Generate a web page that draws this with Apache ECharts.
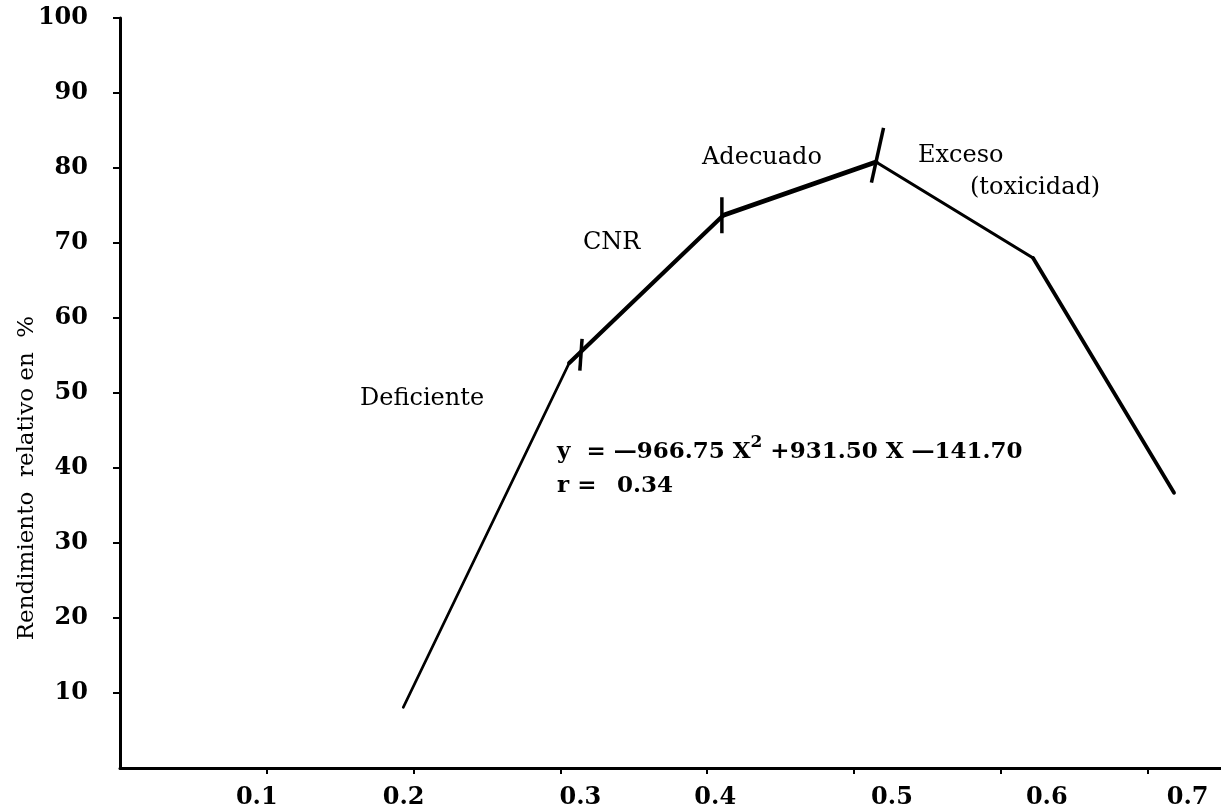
<!DOCTYPE html>
<html><head><meta charset="utf-8">
<script src="https://cdn.jsdelivr.net/npm/echarts@6/dist/echarts.min.js"></script>
<style>html,body{margin:0;padding:0;background:#fff}#c{width:1221px;height:812px}</style>
</head><body><div id="c"></div>
<script>
// Data
const xTicks = [0.1, 0.2, 0.3, 0.4, 0.5, 0.6, 0.7];
const yTicks = [10, 20, 30, 40, 50, 60, 70, 80, 90, 100];
const xValues = [0.193, 0.306, 0.411, 0.515, 0.622, 0.718];
const yValues = [8.1, 54.0, 73.7, 80.8, 68.0, 36.7];
const boundaryX = [0.314, 0.410, 0.516];
const boundaryY = [55.1, 73.7, 81.7];
const zoneLabels = ['Deficiente', 'CNR', 'Adecuado', 'Exceso', '(toxicidad)'];
const equationText = ['y  = \u2014966.75 X', '2', ' +931.50 X \u2014141.70'];
const rText = ['r =', '0.34'];
const yAxisTitle = 'Rendimiento  relativo en  %';

const points = xValues.map((x, i) => [x, yValues[i]]);
const segWidths = [2.8, 4.2, 5, 3.2, 3.8];
const segSeries = segWidths.map((w, i) => ({
  type: 'line', data: points.slice(i, i + 2), symbol: 'none', silent: true,
  lineStyle: { color: '#000', width: w, cap: 'round', opacity: 1 }
}));
const markRot = [-4, 0, -12.5];
const markLen = [32, 36, 56];

const serif = '"DejaVu Serif", "Liberation Serif", serif';
const chart = echarts.init(document.getElementById('c'));
const xOff = [-10, -10, 20, 8, 38, 46, 40];
const rich = {};
xOff.forEach((d, i) => {
  rich['l' + i] = { fontFamily: serif, fontWeight: 'bold', fontSize: 24, color: '#000',
    padding: d >= 0 ? [0, 0, 0, 2 * d] : [0, -2 * d, 0, 0] };
});
const txt = (s, left, cy, size, bold) => ({
  type: 'text', left: left, top: cy - Math.round(size * 0.6),
  style: { text: s, font: (bold ? 'bold ' : '') + size + 'px ' + serif, fill: '#000' }
});
chart.setOption({
  animation: false,
  grid: { left: 120, right: 0, top: 18, bottom: 44, containLabel: false, outerBoundsMode: 'none' },
  xAxis: {
    type: 'value', min: 0, max: 0.75, interval: 0.1,
    axisLine: { show: true, lineStyle: { color: '#000', width: 3 } },
    axisTick: { show: true, length: 6, customValues: xTicks, lineStyle: { color: '#000', width: 2 } },
    splitLine: { show: false },
    axisLabel: {
      margin: 18, color: '#000', customValues: xTicks,
      formatter: v => {
        const idx = xTicks.findIndex(t => Math.abs(t - v) < 1e-9);
        return idx < 0 ? '' : '{l' + idx + '|' + xTicks[idx].toFixed(1) + '}';
      },
      rich: rich
    }
  },
  yAxis: {
    type: 'value', min: 0, max: 100, interval: 10,
    name: yAxisTitle, nameLocation: 'middle', nameGap: 81, nameRotate: 90,
    nameMoveOverlap: false,
    nameTextStyle: { fontFamily: serif, fontSize: 23, color: '#000', padding: [0, 170, 0, 0] },
    axisLine: { show: true, lineStyle: { color: '#000', width: 3 } },
    axisTick: { show: true, length: 7, customValues: yTicks, lineStyle: { color: '#000', width: 2 } },
    splitLine: { show: false },
    axisLabel: {
      margin: 32, color: '#000', fontFamily: serif, fontWeight: 'bold', fontSize: 24,
      customValues: yTicks,
      formatter: v => String(v)
    }
  },
  series: segSeries.concat([{
    type: 'scatter', silent: true,
    data: boundaryX.map((x, i) => ({
      value: [x, boundaryY[i]], symbolRotate: markRot[i], symbolSize: [3.5, markLen[i]]
    })),
    symbol: 'rect', itemStyle: { color: '#000', opacity: 1 }
  }]),
  graphic: [
    txt(zoneLabels[0], 360, 401, 24, false),
    txt(zoneLabels[1], 583, 245, 24, false),
    txt(zoneLabels[2], 702, 160, 24, false),
    txt(zoneLabels[3], 918, 158, 24, false),
    txt(zoneLabels[4], 970, 190, 24, false),
    { type: 'text', left: 557, top: 434, style: {
      text: '{a|' + equationText[0] + '}{s|' + equationText[1] + '}{a|' + equationText[2] + '}',
      rich: {
        a: { fontFamily: serif, fontWeight: 'bold', fontSize: 23, color: '#000', verticalAlign: 'bottom', lineHeight: 30 },
        s: { fontFamily: serif, fontWeight: 'bold', fontSize: 17, color: '#000', verticalAlign: 'top', lineHeight: 30 }
      } } },
    txt(rText[0], 557, 489, 23, true),
    txt(rText[1], 617, 489, 23, true)
  ]
});
</script></body></html>
